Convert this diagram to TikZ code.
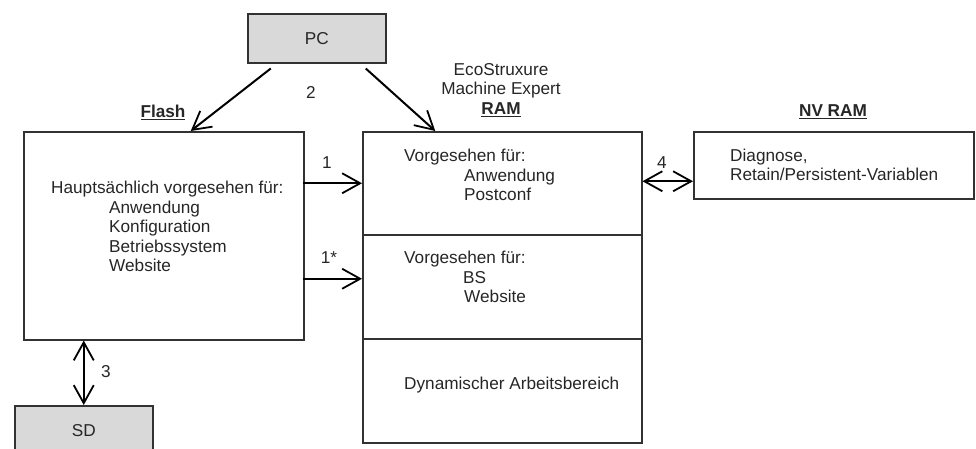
\documentclass[tikz,border=0pt]{standalone}
\usepackage{fontspec}
\setmainfont{Liberation Sans}
\usepackage{tikz}
\usetikzlibrary{arrows.meta,calc}
\definecolor{boxgray}{RGB}{217,217,217}
\definecolor{linegray}{RGB}{50,50,50}
\tikzset{%
    mem/.style={draw=linegray, line width=1.5pt, inner sep=0pt, anchor=north west},
    ext/.style={mem, fill=boxgray},
    txt/.style={inner sep=0pt, align=left, anchor=west, text=black!85, font=\fontsize{17.2}{19.5}\selectfont},
    lbl/.style={inner sep=0pt, text=black!85, font=\fontsize{17.2}{20}\selectfont},
    arr/.style={-{Straight Barb[length=18pt,width=20pt,line width=1.8pt]}, line width=2pt},
    biarr/.style={{Straight Barb[length=18pt,width=20pt,line width=1.8pt]}-{Straight Barb[length=18pt,width=20pt,line width=1.8pt]}, line width=2pt}
}
\begin{document}
\begin{tikzpicture}[x=1pt,y=-1pt]
    \useasboundingbox (0,0) rectangle (976,448);
%-----------------------------------------------
    \node[ext, minimum width=138pt, minimum height=49pt] (pc) at (247,13) {};
    \node[lbl] (pctxt) at (pc.center) {PC};
    \node[mem, minimum width=280pt, minimum height=208pt] (flash) at (23,131) {};
    \node[mem, minimum width=279pt, minimum height=103pt] (ramA) at (362,131) {};
    \node[mem, minimum width=279pt, minimum height=104pt] (ramB) at (362,234) {};
    \node[mem, minimum width=279pt, minimum height=104pt] (ramC) at (362,338) {};
    \node[mem, minimum width=280pt, minimum height=67pt] (nvram) at (693,131) {};
    \node[ext, minimum width=138pt, minimum height=50pt] (sd) at (14,405) {};
    \node[lbl] (sdtxt) at (sd.center) {SD};
%-----------------------------------------------
    \node[lbl] (flashtitle) at (163,112) {\underline{\textbf{Flash}}};
    \node[lbl] (eco) at (501,70) {EcoStruxure};
    \node[lbl] (mexp) at (501,90) {Machine Expert};
    \node[lbl] (ramtitle) at (501,110) {\underline{\textbf{RAM}}};
    \node[lbl] (nvtitle) at (833,112) {\underline{\textbf{NV RAM}}};
%-----------------------------------------------
    \node[txt] (flashtxt) at (51,226.5) {Hauptsächlich vorgesehen für:\\
        \hspace*{58pt}Anwendung\\ \hspace*{58pt}Konfiguration\\
        \hspace*{58pt}Betriebssystem\\ \hspace*{58pt}Website};
    \node[txt] (ramAtxt) at (404,175) {Vorgesehen für:\\
        \hspace*{60pt}Anwendung\\ \hspace*{60pt}Postconf};
    \node[txt] (ramBtxt) at (404,277) {Vorgesehen für:\\
        \hspace*{59pt}BS\\ \hspace*{60pt}Website};
    \node[txt] (ramCtxt) at (404,385) {Dynamischer Arbeitsbereich};
    \node[txt] (nvtxt) at (730,165) {Diagnose,\\ Retain/Persistent-Variablen};
%-----------------------------------------------
    \draw[arr] ([xshift=-46pt,yshift=-5pt]pc.south) -- ([xshift=27pt]flash.north);
    \draw[arr] ([xshift=49pt,yshift=-5pt]pc.south) -- ([xshift=-67pt]ramA.north);
    \draw[arr] ([xshift=-2pt]flash.east |- ramA.west) -- (ramA.west);
    \draw[arr] ([xshift=-2pt,yshift=8pt]flash.east |- ramB.west) -- ([yshift=8pt]ramB.west);
    \draw[biarr] ([yshift=2pt]ramA.east) -- ([yshift=2pt]ramA.east -| nvram.west);
    \draw[biarr] (sd.north |- flash.south) -- (sd.north);
%-----------------------------------------------
    \node[lbl] (n2) at (311,92) {2};
    \node[lbl] (n1) at (327,163) {1};
    \node[lbl] (n1s) at (329,258) {1*};
    \node[lbl] (n4) at (662,163) {4};
    \node[lbl] (n3) at (106,372) {3};
\end{tikzpicture}
\end{document}
